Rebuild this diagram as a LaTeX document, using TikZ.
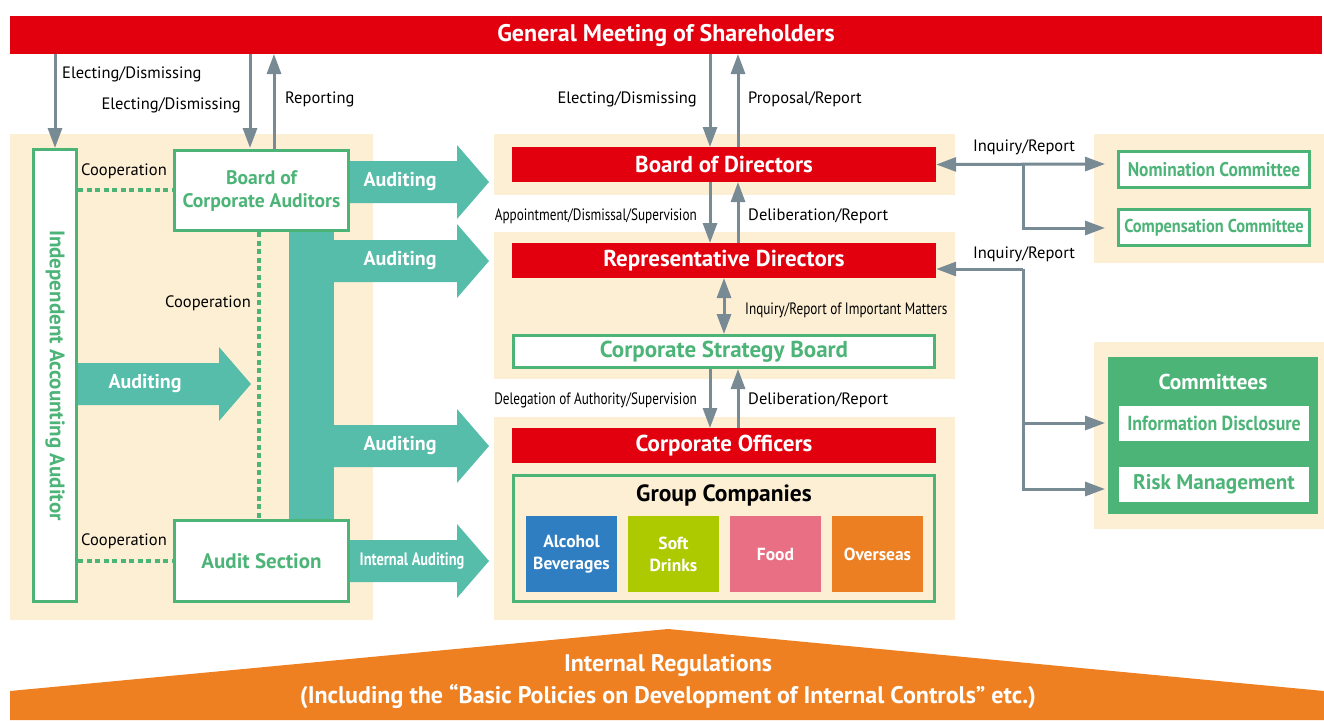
\documentclass[tikz,border=0pt]{standalone}
\usepackage{fontspec}
\setmainfont{PT Sans}
\newfontfamily\narrowfont[FakeStretch=0.8]{PT Sans}
\newfontfamily\semifont[FakeStretch=0.88]{PT Sans}
\usetikzlibrary{positioning,arrows.meta,calc}
\definecolor{shred}{HTML}{E2000F}
\definecolor{panelbg}{HTML}{FDEFD4}
\definecolor{boxgreen}{HTML}{4DB478}
\definecolor{auditteal}{HTML}{56BDAB}
\definecolor{linkgray}{HTML}{788A93}
\definecolor{alcblue}{HTML}{2F7EC1}
\definecolor{softlime}{HTML}{ADCA00}
\definecolor{foodpink}{HTML}{E96F84}
\definecolor{overorange}{HTML}{EC7F22}
\definecolor{regorange}{HTML}{EE8022}
\newcommand\auditarrow[3]{%
  \fill[auditteal] (#1,{#3-21}) -- ({#2-32},{#3-21}) -- ({#2-32},{#3-37}) -- (#2,#3)
    -- ({#2-32},{#3+37}) -- ({#2-32},{#3+21}) -- (#1,{#3+21}) -- cycle;}

\begin{document}
\begin{tikzpicture}[x=1pt, y=-1pt,
    panel/.style={fill=panelbg},
    redbar/.style={fill=shred, text=white, inner sep=0pt, minimum width=424, minimum height=35,
        font=\bfseries\fontsize{23}{26}\selectfont},
    greenbox/.style={draw=boxgreen, line width=3pt, fill=white, text=boxgreen, inner sep=0pt,
        align=center, font=\bfseries\fontsize{21}{24}\selectfont},
    commbox/.style={greenbox, minimum width=191, minimum height=36, font=\semifont\bfseries\fontsize{19.8}{23}\selectfont},
    whitebox/.style={fill=white, text=boxgreen, inner sep=0pt, minimum width=190, minimum height=35},
    company/.style={text=white, inner sep=0pt, minimum width=91, minimum height=76, align=center,
        font=\bfseries\fontsize{17.5}{22}\selectfont},
    lbl/.style={inner sep=0pt, font=\fontsize{16.5}{19}\selectfont},
    narrowlbl/.style={inner sep=0pt, font=\narrowfont\fontsize{16.5}{19}\selectfont},
    audittext/.style={text=white, inner sep=0pt, font=\bfseries\fontsize{20}{23}\selectfont},
    link/.style={draw=linkgray, line width=3pt, -{Triangle[length=20pt, width=14pt]}},
    twolink/.style={draw=linkgray, line width=3pt, {Triangle[length=20pt, width=14pt]}-{Triangle[length=20pt, width=14pt]}},
    coop/.style={draw=boxgreen, line width=4pt, dash pattern=on 5pt off 3.5pt}
]
\useasboundingbox (0,0) rectangle (1324,720);

\node[fill=shred, text=white, minimum width=1312, minimum height=38, inner sep=0pt,
    font=\bfseries\fontsize{24}{28}\selectfont] (meeting) at (666,35) {General Meeting of Shareholders};

\fill[panel] (10,134) rectangle (373,620);
\fill[panel] (494,134) rectangle (955,195);
\fill[panel] (494,232) rectangle (955,379);
\fill[panel] (494,417) rectangle (955,620);
\fill[panel] (1094,134) rectangle (1324,263);
\fill[panel] (1094,342) rectangle (1324,529);

\fill[auditteal] (289,225) rectangle (334,525);
\auditarrow{340}{489}{182}
\auditarrow{330}{489}{261}
\auditarrow{330}{489}{446}
\auditarrow{340}{489}{561}
\auditarrow{70}{251}{384}

\node[greenbox, minimum width=43, minimum height=452] (auditor) at (55,375.5) {};
\node[rotate=-90, text=boxgreen, inner sep=0pt, font=\bfseries\fontsize{21}{24}\selectfont] (auditortext) at (auditor.center) {Independent Accounting Auditor};
\node[greenbox, minimum width=174, minimum height=80, font=\bfseries\fontsize{19.6}{23}\selectfont] (bca) at (261.5,190.5) {Board of\\Corporate Auditors};
\node[greenbox, minimum width=174, minimum height=81] (auditsec) at (261.5,561) {Audit Section};

\node[audittext] (aud1) at (400,182) {Auditing};
\node[audittext] (aud2) at (400,261) {Auditing};
\node[audittext] (aud3) at (400,446) {Auditing};
\node[audittext] (aud4) at (145,384) {Auditing};
\node[text=white, inner sep=0pt, font=\narrowfont\bfseries\fontsize{18}{21}\selectfont] (intaud) at (412,561) {Internal Auditing};

\node[redbar] (bod) at (724,164.5) {Board of Directors};
\node[redbar] (rep) at (724,260.5) {Representative Directors};
\node[greenbox, minimum width=421, minimum height=32, font=\bfseries\fontsize{23}{26}\selectfont] (csb) at (724,351.5) {Corporate Strategy Board};
\node[redbar] (officers) at (724,445.5) {Corporate Officers};
\node[draw=boxgreen, line width=3pt, minimum width=421, minimum height=126, inner sep=0pt] (group) at (724,538.5) {};
\node[inner sep=0pt, font=\bfseries\fontsize{23.5}{27}\selectfont] (grouptitle) at (724,495) {Group Companies};
\node[company, fill=alcblue] (alcohol) at (571.5,554) {Alcohol\\Beverages};
\node[company, fill=softlime] (soft) at (673.5,554) {Soft\\Drinks};
\node[company, fill=foodpink] (food) at (775.5,554) {Food};
\node[company, fill=overorange] (overseas) at (877.5,554) {Overseas};

\node[commbox] (nomination) at (1214,169.5) {Nomination Committee};
\node[commbox, font=\semifont\bfseries\fontsize{18.6}{22}\selectfont] (compensation) at (1214,227.5) {Compensation Committee};
\node[fill=boxgreen, minimum width=210, minimum height=157, inner sep=0pt] (committees) at (1213,435.5) {};
\node[text=white, inner sep=0pt, font=\bfseries\fontsize{21.5}{25}\selectfont] (commtitle) at (1213,382) {Committees};
\node[whitebox, font=\semifont\bfseries\fontsize{20.3}{23}\selectfont] (disclosure) at (1214,423.5) {Information Disclosure};
\node[whitebox, font=\bfseries\fontsize{21.2}{24}\selectfont] (risk) at (1214,484.5) {Risk Management};

\coordinate (bodhub) at (1023,164);
\coordinate (rephub) at (1023,269);
\coordinate (nomtip) at (1105,164);

\draw[link] (meeting.south -| auditor.north) -- (auditor.north);
\draw[link] (250,54) -- (250,148);
\draw[link] (274,149) -- (274,54);
\draw[link] (710,54) -- (710,147);
\draw[link] (738,147) -- (738,54);
\draw[link] (710,182) -- (710,243);
\draw[link] (738,243) -- (738,182);
\draw[twolink] (724,278) -- (724,334);
\draw[link] (710,369) -- (710,428);
\draw[link] (738,428) -- (738,369);

\draw[twolink] (bod.east) -- (nomtip);
\draw[link] (bodhub) |- (1105,228);
\draw[link] (rephub) -- (rep.east |- rephub);
\draw[draw=linkgray, line width=3pt] (rephub) -- (1023,489);
\draw[link] (1021.5,423) -- (1105,423);
\draw[link] (1021.5,489) -- (1105,489);

\node[lbl, anchor=west] (elect1) at (62,74) {Electing/Dismissing};
\node[lbl, anchor=east] (elect2) at (241,105) {Electing/Dismissing};
\node[lbl, anchor=west] (reporting) at (285,99) {Reporting};
\node[lbl, anchor=east] (elect3) at (697,99) {Electing/Dismissing};
\node[lbl, anchor=west] (proposal) at (748,99) {Proposal/Report};
\node[narrowlbl, anchor=east] (appoint) at (697,216) {Appointment/Dismissal/Supervision};
\node[lbl, anchor=west] (delib1) at (748,216) {Deliberation/Report};
\node[narrowlbl, anchor=west] (important) at (745,310) {Inquiry/Report of Important Matters};
\node[narrowlbl, anchor=east] (delegation) at (697,400) {Delegation of Authority/Supervision};
\node[lbl, anchor=west] (delib2) at (748,400) {Deliberation/Report};
\node[lbl] (inquiry1) at (1024,147) {Inquiry/Report};
\node[lbl] (inquiry2) at (1024,254) {Inquiry/Report};

\draw[coop] (auditor.east |- 0,190) -- (bca.west |- 0,190);
\draw[coop] (259,232) -- (259,519);
\draw[coop] (auditor.east |- auditsec.west) -- (auditsec.west);
\node[lbl] (coop1) at (124,171) {Cooperation};
\node[lbl] (coop2) at (208,303) {Cooperation};
\node[lbl] (coop3) at (124,541) {Cooperation};

\fill[regorange] (10,720) -- (10,691) -- (668,629) -- (1324,691) -- (1324,720) -- cycle;
\node[text=white, inner sep=0pt, font=\bfseries\fontsize{24}{28}\selectfont] (regulations) at (668,666) {Internal Regulations};
\node[text=white, inner sep=0pt, font=\bfseries\fontsize{24}{28}\selectfont] (policies) at (668,697) {(Including the “Basic Policies on Development of Internal Controls” etc.)};
\end{tikzpicture}
\end{document}
